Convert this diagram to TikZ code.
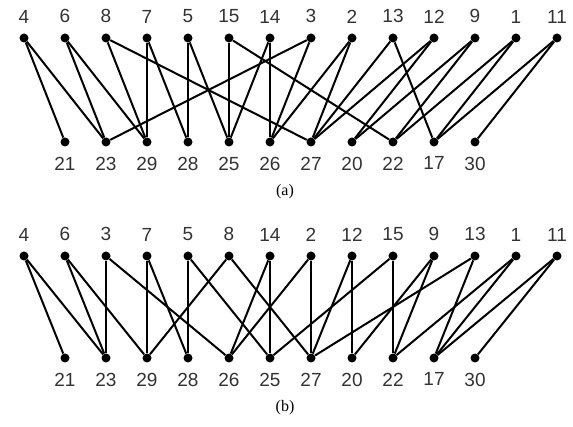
\documentclass[tikz,border=0pt]{standalone}
\usepackage{fontspec}
\setmainfont{Liberation Serif}
\setsansfont{Liberation Sans}
\usepackage{tikz}
\usetikzlibrary{positioning}

\begin{document}
\begin{tikzpicture}[
  x=1pt, y=-1pt,
  dot/.style={circle, fill=black, inner sep=0pt, minimum size=9pt},
  num/.style={font=\sffamily\fontsize{19}{19}\selectfont, text=black!80, inner sep=0pt},
  captxt/.style={font=\fontsize{16}{16}\selectfont, inner sep=0pt},
  edge/.style={line width=2pt}]
\useasboundingbox (0,0) rectangle (573,427);
% (a)
\foreach \n [count=\i from 0] in {4,6,8,7,5,15,14,3,2,13,12,9,1,11}
  \node[dot, label={[num, label distance=10pt]above:\n}] (a\n) at (24+41*\i, 38) {};
\foreach \n [count=\i from 1] in {21,23,29,28,25,26,27,20,22,17,30}
  \node[dot, label={[num, label distance=10pt]below:\n}] (a\n) at (24+41*\i, 142) {};
\node[captxt] (capa) at (285,192) {(a)};
% (b)
\foreach \n [count=\i from 0] in {4,6,3,7,5,8,14,2,12,15,9,13,1,11}
  \node[dot, label={[num, label distance=10pt]above:\n}] (b\n) at (24+41*\i, 256) {};
\foreach \n [count=\i from 1] in {21,23,29,28,26,25,27,20,22,17,30}
  \node[dot, label={[num, label distance=10pt]below:\n}] (b\n) at (24+41*\i, 358) {};
\node[captxt] (capb) at (285,408) {(b)};
% same edges in both orderings
\foreach \p in {a,b}
  \foreach \u/\v in {4/21, 4/23, 6/23, 6/29, 8/29, 8/27, 7/29, 7/28, 5/28, 5/25,
      15/25, 15/22, 14/26, 14/25, 3/23, 3/26, 2/26, 2/27, 13/27, 13/17,
      12/27, 12/20, 9/20, 9/22, 1/22, 1/17, 11/17, 11/30}
    \draw[edge] (\p\u) -- (\p\v);
\end{tikzpicture}
\end{document}
